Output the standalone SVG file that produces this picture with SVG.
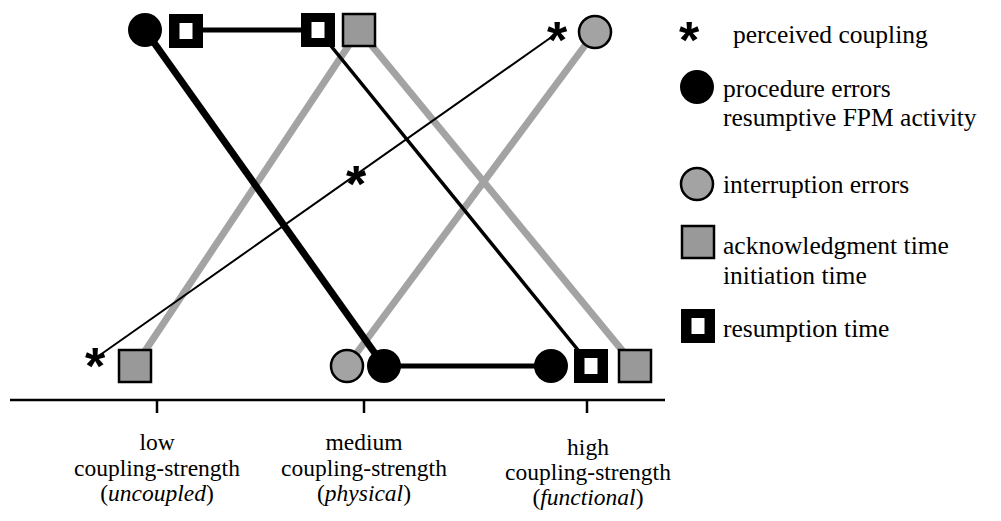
<svg xmlns="http://www.w3.org/2000/svg" width="1001" height="521" viewBox="0 0 1001 521">
  <style>
    .lbl { font-family: 'Liberation Serif', 'DejaVu Serif', serif; font-size: 23.5px; fill: #000; }
    .leg { font-family: 'Liberation Serif', 'DejaVu Serif', serif; font-size: 25.5px; fill: #000; }
    .ast { font-family: 'Liberation Sans', Arial, sans-serif; font-weight: bold; font-size: 52px; fill: #000; text-anchor: middle; }
    .it { font-style: italic; }
    .gline { stroke: #a3a3a3; stroke-width: 7; fill: none; }
    .bthick { stroke: #000; stroke-width: 7; fill: none; }
    .bthin { stroke: #000; stroke-width: 3.5; fill: none; }
    .perc { stroke: #000; stroke-width: 2; fill: none; }
    .axis { stroke: #000; stroke-width: 2.5; fill: none; }
  </style>
  <defs>
    <circle id="bcirc" r="17" fill="#000"/>
    <circle id="gcirc" r="16" fill="#a3a3a3" stroke="#000" stroke-width="2.5"/>
    <rect id="gsq" x="-16" y="-16" width="32" height="32" fill="#999" stroke="#000" stroke-width="2.5"/>
    <g id="bsq">
      <rect x="-17" y="-17" width="34" height="34" fill="#000"/>
      <rect x="-6.5" y="-8" width="13" height="16" fill="#fff"/>
    </g>
  </defs>

  <!-- connectors between coupling levels -->
  <g id="connectors">
    <line class="gline" x1="135" y1="366" x2="359" y2="30"/>
    <line class="gline" x1="359" y1="30" x2="635" y2="366"/>
    <line class="gline" x1="347" y1="366" x2="595" y2="32"/>
    <line class="bthick" x1="145" y1="30" x2="384" y2="366"/>
    <line class="bthin" x1="318" y1="30" x2="591" y2="366"/>
    <line class="bthick" x1="186" y1="30" x2="318" y2="30" style="stroke-width:5"/>
    <line class="bthick" x1="384" y1="366" x2="551" y2="366" style="stroke-width:5"/>
    <line class="perc" x1="100" y1="355" x2="553" y2="36"/>
  </g>

  <!-- axis -->
  <g id="axis">
    <line class="axis" x1="10" y1="400" x2="665" y2="400"/>
    <line class="axis" x1="157" y1="400" x2="157" y2="413"/>
    <line class="axis" x1="364" y1="400" x2="364" y2="413"/>
    <line class="axis" x1="587" y1="400" x2="587" y2="413"/>
  </g>

  <!-- data points -->
  <g id="n-top-procedure"><use href="#bcirc" x="145" y="30"/></g>
  <g id="n-top-resumption-low"><use href="#bsq" x="186" y="31"/></g>
  <g id="n-top-resumption-med"><use href="#bsq" x="318" y="30"/></g>
  <g id="n-top-ack-med"><use href="#gsq" x="359" y="30"/></g>
  <g id="n-top-interruption"><use href="#gcirc" x="595" y="32"/></g>
  <g id="n-bot-ack-low"><use href="#gsq" x="135" y="366"/></g>
  <g id="n-bot-interruption-med"><use href="#gcirc" x="347" y="366"/></g>
  <g id="n-bot-procedure-med"><use href="#bcirc" x="384" y="366"/></g>
  <g id="n-bot-procedure-high"><use href="#bcirc" x="551" y="366"/></g>
  <g id="n-bot-resumption-high"><use href="#bsq" x="591" y="366"/></g>
  <g id="n-bot-ack-high"><use href="#gsq" x="635" y="366"/></g>

  <!-- perceived coupling markers -->
  <g id="n-perceived">
    <text class="ast" x="95" y="384">*</text>
    <text class="ast" x="356" y="202">*</text>
    <text class="ast" x="557" y="58">*</text>
  </g>

  <!-- axis labels -->
  <g id="n-low">
    <text class="lbl" text-anchor="middle" x="157" y="450">low</text>
    <text class="lbl" text-anchor="middle" x="157" y="476">coupling-strength</text>
    <text class="lbl" text-anchor="middle" x="157" y="501">(<tspan class="it">uncoupled</tspan>)</text>
  </g>
  <g id="n-medium">
    <text class="lbl" text-anchor="middle" x="364" y="450">medium</text>
    <text class="lbl" text-anchor="middle" x="364" y="476">coupling-strength</text>
    <text class="lbl" text-anchor="middle" x="364" y="501">(<tspan class="it">physical</tspan>)</text>
  </g>
  <g id="n-high">
    <text class="lbl" text-anchor="middle" x="588" y="455">high</text>
    <text class="lbl" text-anchor="middle" x="588" y="480">coupling-strength</text>
    <text class="lbl" text-anchor="middle" x="588" y="505">(<tspan class="it">functional</tspan>)</text>
  </g>

  <!-- legend -->
  <g id="legend">
    <text class="ast" x="689" y="58">*</text>
    <text class="leg" x="733" y="43">perceived coupling</text>
    <use href="#bcirc" x="697" y="87"/>
    <text class="leg" x="723" y="97">procedure errors</text>
    <text class="leg" x="723" y="125.5">resumptive FPM activity</text>
    <use href="#gcirc" x="697" y="184"/>
    <text class="leg" x="723" y="193">interruption errors</text>
    <use href="#gsq" x="698" y="242"/>
    <text class="leg" x="723" y="254">acknowledgment time</text>
    <text class="leg" x="723" y="284">initiation time</text>
    <use href="#bsq" x="698" y="326"/>
    <text class="leg" x="723" y="337">resumption time</text>
  </g>
</svg>
